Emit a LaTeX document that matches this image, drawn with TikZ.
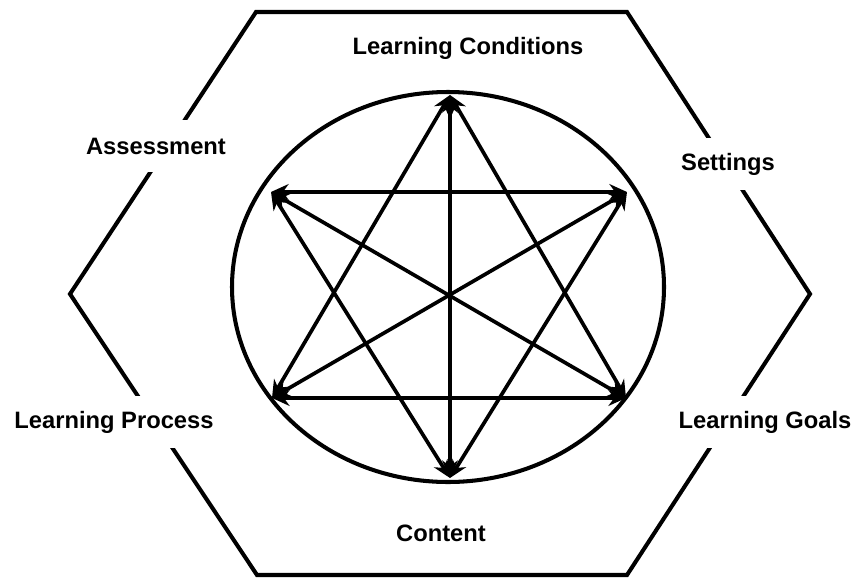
\documentclass[tikz,border=0pt]{standalone}
\usepackage{fontspec}
\setmainfont{Liberation Sans}
\usetikzlibrary{arrows.meta}

\begin{document}
\begin{tikzpicture}[
        x=0.02cm, y=-0.02cm,
        edge/.style={line width=2.3pt, line join=miter},
        tag/.style={fill=white, font=\fontsize{13.5}{16}\selectfont\bfseries, minimum height=1.04cm, inner xsep=3pt},
        link/.style={line width=2.1pt, {Stealth[length=10pt,width=9pt]}-{Stealth[length=10pt,width=9pt]}}
    ]
    \useasboundingbox (0,0) rectangle (854,578);

    % Hexagon corners
    \coordinate (h1) at (256,12);
    \coordinate (h2) at (627,12);
    \coordinate (h3) at (810,294);
    \coordinate (h4) at (627,575);
    \coordinate (h5) at (257,575);
    \coordinate (h6) at (70,294);
    \draw[edge] (h1) -- (h2) -- (h3) -- (h4) -- (h5) -- (h6) -- cycle;

    % Inner ring
    \draw[edge] (448,287) ellipse [x radius=216, y radius=195];

    % Star points
    \coordinate (t)  at (450,95);
    \coordinate (b)  at (450,478);
    \coordinate (ul) at (271,192);
    \coordinate (ur) at (627,192);
    \coordinate (ll) at (272,398);
    \coordinate (lr) at (626,398);

    % Labels
    \node[tag] (cond)    at (468,48)  {Learning Conditions};
    \node[tag] (assess)  at (156,146) {Assessment};
    \node[tag] (set)     at (728,164) {Settings};
    \node[tag] (process) at (114,422) {Learning Process};
    \node[tag] (goals)   at (765,422) {Learning Goals};
    \node[tag] (content) at (441,533) {Content};

    % Arrows
    \foreach \a/\b in {t/b, ul/ur, ll/lr, ul/lr, ll/ur, t/ll, t/lr, b/ul, b/ur}
        \draw[link] (\a) -- (\b);

\end{tikzpicture}
\end{document}
